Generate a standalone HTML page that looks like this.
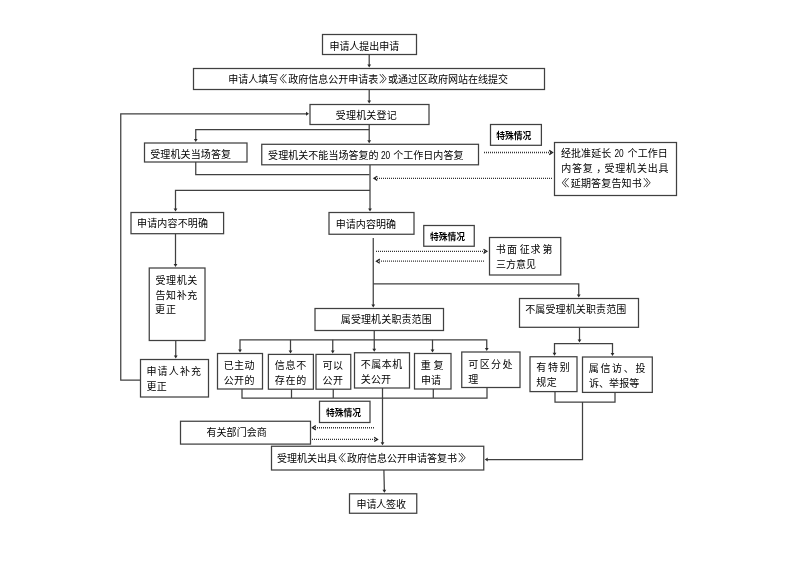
<!DOCTYPE html>
<html lang="zh-CN">
<head>
<meta charset="utf-8">
<title>政府信息公开申请流程图</title>
<style>
html,body{margin:0;padding:0;background:#fff;}
body{width:800px;height:565px;overflow:hidden;}
svg{display:block;will-change:transform;}
text{font-family:"Liberation Sans","Noto Sans CJK SC",sans-serif;fill:#000;white-space:pre;}
.t{font-size:10px;font-weight:400;}
.d{font-size:10.4px;font-weight:400;}
.q{font-weight:300;}
.s{font-size:9.1px;font-weight:700;}
.bx{fill:#fff;stroke:#404040;stroke-width:1.25;}
.ln{fill:none;stroke:#404040;stroke-width:1.25;}
.dt{fill:none;stroke:#333;stroke-width:1.3;stroke-dasharray:1 1;}
.ah{fill:#2a2a2a;stroke:none;}
.ch{fill:none;stroke:#222;stroke-width:1.3;}
</style>
</head>
<body>
<svg width="800" height="565" viewBox="0 0 800 565">
<rect x="0" y="0" width="800" height="565" fill="#fff"/>
<g>
<polyline class="ln" points="369.2,54.5 369.2,65"/>
<polygon class="ah" points="369.20,67.50 367.30,64.50 371.10,64.50"/>
<polyline class="ln" points="369.2,89.5 369.2,101"/>
<polygon class="ah" points="369.20,103.50 367.30,100.50 371.10,100.50"/>
<polyline class="ln" points="369.2,124.5 369.2,140.8"/>
<polygon class="ah" points="369.20,143.30 367.30,140.30 371.10,140.30"/>
<polyline class="ln" points="369.2,129.7 195.75,129.7 195.75,139.5"/>
<polygon class="ah" points="195.75,142.00 193.85,139.00 197.65,139.00"/>
<polyline class="ln" points="195.75,162 195.75,174.5 369.5,174.5"/>
<polyline class="ln" points="370,165 370,209"/>
<polygon class="ah" points="370.00,211.50 368.10,208.50 371.90,208.50"/>
<polyline class="ln" points="370,190.25 175.5,190.25 175.5,209"/>
<polygon class="ah" points="175.50,211.50 173.60,208.50 177.40,208.50"/>
<polyline class="ln" points="175.5,233.75 175.5,264.5"/>
<polygon class="ah" points="175.50,267.00 173.60,264.00 177.40,264.00"/>
<polyline class="ln" points="175.75,340.5 175.75,356"/>
<polygon class="ah" points="175.75,358.50 173.85,355.50 177.65,355.50"/>
<polyline class="ln" points="140.5,380.2 120.75,380.2 120.75,113.75 306.5,113.75"/>
<polygon class="ah" points="309.00,113.75 306.00,115.65 306.00,111.85"/>
<polyline class="ln" points="373.25,238 373.25,305"/>
<polygon class="ah" points="373.25,307.50 371.35,304.50 375.15,304.50"/>
<polyline class="ln" points="373.25,283.75 578.75,283.75 578.75,295"/>
<polygon class="ah" points="578.75,297.50 576.85,294.50 580.65,294.50"/>
<polyline class="ln" points="374.25,330.5 374.25,349.25"/>
<polygon class="ah" points="374.25,351.75 372.35,348.75 376.15,348.75"/>
<polyline class="ln" points="374.25,339.8 240,339.8 240,350"/>
<polygon class="ah" points="240.00,352.50 238.10,349.50 241.90,349.50"/>
<polyline class="ln" points="374.25,339.8 486.75,339.8 486.75,348.5"/>
<polygon class="ah" points="486.75,351.00 484.85,348.00 488.65,348.00"/>
<polyline class="ln" points="290.5,339.8 290.5,350.9"/>
<polygon class="ah" points="290.50,353.40 288.60,350.40 292.40,350.40"/>
<polyline class="ln" points="332.75,339.8 332.75,350.9"/>
<polygon class="ah" points="332.75,353.40 330.85,350.40 334.65,350.40"/>
<polyline class="ln" points="432.5,339.8 432.5,350"/>
<polygon class="ah" points="432.50,352.50 430.60,349.50 434.40,349.50"/>
<polyline class="ln" points="242,389 242,398 487,398 487,387.5"/>
<polyline class="ln" points="291.5,389 291.5,398"/>
<polyline class="ln" points="333.25,389 333.25,398"/>
<polyline class="ln" points="433.3,389 433.3,398"/>
<polyline class="ln" points="382.5,388 382.5,442.75"/>
<polygon class="ah" points="382.50,445.25 380.60,442.25 384.40,442.25"/>
<polyline class="ln" points="579.5,327.3 579.5,340"/>
<polygon class="ah" points="579.50,342.50 577.60,339.50 581.40,339.50"/>
<polyline class="ln" points="579.5,343.5 554.5,343.5 554.5,353.25"/>
<polygon class="ah" points="554.50,355.75 552.60,352.75 556.40,352.75"/>
<polyline class="ln" points="579.5,343.5 612.5,343.5 612.5,353.5"/>
<polygon class="ah" points="612.50,356.00 610.60,353.00 614.40,353.00"/>
<polyline class="ln" points="555,391.6 555,402 615,402 615,392.4"/>
<polyline class="ln" points="582.5,402 582.5,459.5 487.25,459.5"/>
<polygon class="ah" points="484.75,459.50 487.75,457.60 487.75,461.40"/>
<polyline class="ln" points="383.9,470 384.35,490.3"/>
<polygon class="ah" points="384.40,492.80 382.44,489.84 386.24,489.76"/>
<line class="dt" x1="484" y1="152.5" x2="552" y2="152.5"/>
<polyline class="ch" points="549.2,150.4 552.5,152.5 549.2,154.6"/>
<line class="dt" x1="552" y1="178.3" x2="375" y2="178.3"/>
<polyline class="ch" points="377.3,176.2 374,178.3 377.3,180.4"/>
<line class="dt" x1="376" y1="251.3" x2="486" y2="251.3"/>
<polyline class="ch" points="483.5,249.2 486.8,251.3 483.5,253.4"/>
<line class="dt" x1="484" y1="261.2" x2="378" y2="261.2"/>
<polyline class="ch" points="379.8,259.1 376.5,261.2 379.8,263.3"/>
<line class="dt" x1="374" y1="427.75" x2="314" y2="427.75"/>
<polyline class="ch" points="315.8,425.65 312.5,427.75 315.8,429.85"/>
<line class="dt" x1="312" y1="439.4" x2="376" y2="439.4"/>
<polyline class="ch" points="374.2,437.3 377.5,439.4 374.2,441.5"/>
</g>
<g>
<rect class="bx" x="322.5" y="34.5" width="94" height="20"/>
<rect class="bx" x="193.5" y="68.5" width="351" height="21"/>
<rect class="bx" x="310" y="104.5" width="119" height="20"/>
<rect class="bx" x="144.5" y="143" width="102.5" height="19"/>
<rect class="bx" x="261.75" y="144.3" width="216.75" height="20.5"/>
<rect class="bx" x="490.5" y="124.5" width="50.9" height="20.8"/>
<rect class="bx" x="554.5" y="142.5" width="122" height="53"/>
<rect class="bx" x="131" y="212.5" width="92.6" height="21.2"/>
<rect class="bx" x="329" y="212.5" width="85" height="21.75"/>
<rect class="bx" x="423.75" y="225.5" width="50.5" height="20.75"/>
<rect class="bx" x="489.5" y="237.5" width="71.25" height="37.5"/>
<rect class="bx" x="149.25" y="268" width="55.75" height="72.5"/>
<rect class="bx" x="140.5" y="359.5" width="68" height="37.5"/>
<rect class="bx" x="217.5" y="353.5" width="45" height="35.5"/>
<rect class="bx" x="268.4" y="354.4" width="45" height="34.8"/>
<rect class="bx" x="316" y="354.4" width="34.75" height="34.8"/>
<rect class="bx" x="354.5" y="352.75" width="55" height="35.25"/>
<rect class="bx" x="414.5" y="353.5" width="36.5" height="35.5"/>
<rect class="bx" x="461.75" y="352" width="58.25" height="35.5"/>
<rect class="bx" x="315" y="308.5" width="128.5" height="22"/>
<rect class="bx" x="519.5" y="298.5" width="119" height="28.8"/>
<rect class="bx" x="530" y="356.75" width="47" height="34.85"/>
<rect class="bx" x="582.5" y="357" width="69.8" height="35.4"/>
<rect class="bx" x="319.5" y="401.25" width="50.5" height="21.25"/>
<rect class="bx" x="180.5" y="421.25" width="130" height="22.85"/>
<rect class="bx" x="271.5" y="446.25" width="212.25" height="23.75"/>
<rect class="bx" x="349.5" y="493.8" width="67.25" height="19.45"/>
</g>
<g>
<text class="t" x="329.50 339.45 349.40 359.35 369.30 379.25 389.20" y="50.00">申请人提出申请</text>
<text class="t" x="228.30 238.29 248.28 258.27 268.26" y="83.20">申请人填写</text>
<text class="t q" transform="translate(270.60,83.20) scale(1.7,1)">《</text>
<text class="t" x="288.23 298.22 308.21 318.20 328.19 338.18 348.17 358.16 368.14" y="83.20">政府信息公开申请表</text>
<text class="t q" transform="translate(378.82,83.20) scale(1.7,1)">》</text>
<text class="t" x="388.12 398.11 408.10 418.09 428.08 438.07 448.06 458.04 468.03 478.02 488.01 498.00" y="83.20">或通过区政府网站在线提交</text>
<text class="t" x="335.75 345.95 356.15 366.35 376.55 386.75" y="118.70">受理机关登记</text>
<text class="t" x="150.25 160.36 170.46 180.57 190.68 200.79 210.89 221.00" y="158.20">受理机关当场答复</text>
<text class="t" x="268.10 278.15 288.20 298.25 308.30 318.35 328.40 338.45 348.50 358.55 368.60" y="159.20">受理机关不能当场答复的</text>
<text class="d" xml:space="preserve" transform="translate(378.66,159.20) scale(0.8,1)"> 20 </text>
<text class="t" x="393.15 403.20 413.25 423.30 433.35 443.40 453.45" y="159.20">个工作日内答复</text>
<text class="t" x="561.00 571.05 581.10 591.15 601.20" y="157.45">经批准延长</text>
<text class="d" xml:space="preserve" transform="translate(612.18,157.45) scale(0.8,1)"> 20 </text>
<text class="t" x="627.60 637.65 647.70 657.75" y="157.45">个工作日</text>
<text class="t" x="561.25 572.06 582.86 596.17 604.47 615.28 626.08 636.89 647.69 658.50" y="172.20">内答复，受理机关出具</text>
<text class="t q" transform="translate(552.86,187.45) scale(1.7,1)">《</text>
<text class="t" x="570.69 580.88 591.06 601.25 611.44 621.62 631.81" y="187.45">延期答复告知书</text>
<text class="t q" transform="translate(642.69,187.45) scale(1.7,1)">》</text>
<text class="t" x="137.00 147.17 157.33 167.50 177.67 187.83 198.00" y="227.45">申请内容不明确</text>
<text class="t" x="335.75 345.80 355.85 365.90 375.95 386.00" y="228.45">申请内容明确</text>
<text class="t" x="495.80 507.10" y="252.80">书面</text>
<text class="t" x="519.70 530.50" y="252.80">征求</text>
<text class="t" x="542.50" y="252.80">第</text>
<text class="t" x="496.00 506.00 516.00 526.00" y="268.10">三方意见</text>
<text class="t" x="155.50 166.10 176.70 187.30" y="283.70">受理机关</text>
<text class="t" x="155.50 166.10 176.70 187.30" y="298.70">告知补充</text>
<text class="t" x="155.00 166.00" y="312.95">更正</text>
<text class="t" x="146.50 157.62 168.75 179.88 191.00" y="374.80">申请人补充</text>
<text class="t" x="146.50 156.75" y="389.70">更正</text>
<text class="t" x="223.75 234.12 244.50" y="369.20">已主动</text>
<text class="t" x="223.75 234.12 244.50" y="384.20">公开的</text>
<text class="t" x="274.70 285.50 296.30" y="369.20">信息不</text>
<text class="t" x="274.70 285.50 296.30" y="384.20">存在的</text>
<text class="t" x="322.50 333.00" y="369.20">可以</text>
<text class="t" x="322.50 333.00" y="383.70">公开</text>
<text class="t" x="360.75 371.25 381.75 392.25" y="368.00">不属本机</text>
<text class="t" x="360.75 370.88 381.00" y="382.70">关公开</text>
<text class="t" x="420.75" y="369.40">重</text>
<text class="t" x="433.50" y="369.40">复</text>
<text class="t" x="421.00 431.00" y="384.20">申请</text>
<text class="t" x="468.25 479.67 491.08 502.50" y="367.90">可区分处</text>
<text class="t" x="468.25" y="382.95">理</text>
<text class="t" x="340.75 350.88 361.00 371.12 381.25 391.38 401.50 411.62 421.75" y="323.45">属受理机关职责范围</text>
<text class="t" x="525.25 535.36 545.47 555.58 565.69 575.81 585.92 596.03 606.14 616.25" y="313.45">不属受理机关职责范围</text>
<text class="t" x="536.25 548.00 559.75" y="371.20">有特别</text>
<text class="t" x="536.25 546.75" y="386.20">规定</text>
<text class="t" x="588.75 600.44 612.12 623.81 635.50" y="372.20">属信访、投</text>
<text class="t" x="589.00 599.06 609.12 619.19 629.25" y="387.20">诉、举报等</text>
<text class="t" x="206.50 216.55 226.60 236.65 246.70 256.75" y="435.90">有关部门会商</text>
<text class="t" x="277.10 287.10 297.10 307.10 317.10 327.10" y="461.60">受理机关出具</text>
<text class="t q" transform="translate(329.46,461.60) scale(1.7,1)">《</text>
<text class="t" x="347.10 357.10 367.10 377.10 387.10 397.10 407.10 417.10 427.10 437.10 447.10" y="461.60">政府信息公开申请答复书</text>
<text class="t q" transform="translate(457.79,461.60) scale(1.7,1)">》</text>
<text class="t" x="356.50 366.38 376.25 386.12 396.00" y="508.30">申请人签收</text>
<text class="s" transform="translate(496.15,138.87) scale(0.967,1)">特殊情况</text>
<text class="s" transform="translate(429.95,239.97) scale(0.964,1)">特殊情况</text>
<text class="s" transform="translate(325.90,415.87) scale(0.963,1)">特殊情况</text>
</g>
</svg>
</body>
</html>
